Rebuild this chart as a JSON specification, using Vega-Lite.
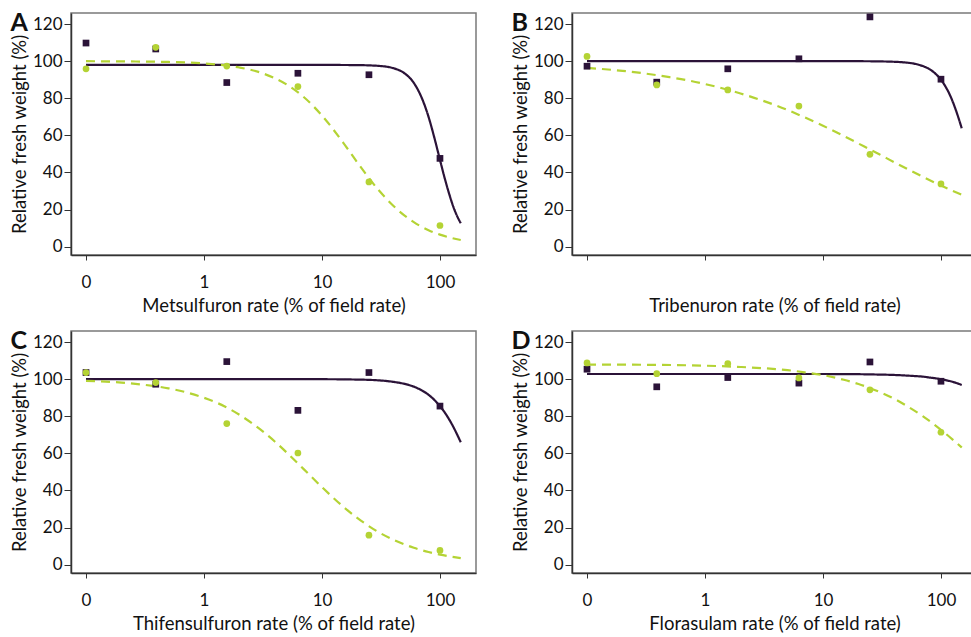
{
  "$schema": "https://vega.github.io/schema/vega-lite/v6.json",
  "background": "white",
  "padding": {"left": 9, "top": 10, "right": 0, "bottom": 0},
  "datasets": {
    "obs": [
      {"panel":"A","group":"R","rate":0.1,"weight":109.8},{"panel":"A","group":"R","rate":0.39,"weight":106.6},{"panel":"A","group":"R","rate":1.56,"weight":88.5},{"panel":"A","group":"R","rate":6.25,"weight":93.5},{"panel":"A","group":"R","rate":25,"weight":92.7},{"panel":"A","group":"R","rate":100,"weight":47.6},
      {"panel":"A","group":"S","rate":0.1,"weight":95.9},{"panel":"A","group":"S","rate":0.39,"weight":107.5},{"panel":"A","group":"S","rate":1.56,"weight":97.4},{"panel":"A","group":"S","rate":6.25,"weight":86.3},{"panel":"A","group":"S","rate":25,"weight":34.9},{"panel":"A","group":"S","rate":100,"weight":11.4},
      {"panel":"B","group":"R","rate":0.1,"weight":97.3},{"panel":"B","group":"R","rate":0.39,"weight":88.7},{"panel":"B","group":"R","rate":1.56,"weight":95.9},{"panel":"B","group":"R","rate":6.25,"weight":101.3},{"panel":"B","group":"R","rate":25,"weight":123.9},{"panel":"B","group":"R","rate":100,"weight":90.3},
      {"panel":"B","group":"S","rate":0.1,"weight":102.6},{"panel":"B","group":"S","rate":0.39,"weight":87.2},{"panel":"B","group":"S","rate":1.56,"weight":84.5},{"panel":"B","group":"S","rate":6.25,"weight":75.8},{"panel":"B","group":"S","rate":25,"weight":49.8},{"panel":"B","group":"S","rate":100,"weight":33.8},
      {"panel":"C","group":"R","rate":0.1,"weight":103.6},{"panel":"C","group":"R","rate":0.39,"weight":97.3},{"panel":"C","group":"R","rate":1.56,"weight":109.5},{"panel":"C","group":"R","rate":6.25,"weight":83.2},{"panel":"C","group":"R","rate":25,"weight":103.6},{"panel":"C","group":"R","rate":100,"weight":85.5},
      {"panel":"C","group":"S","rate":0.1,"weight":103.6},{"panel":"C","group":"S","rate":0.39,"weight":98.2},{"panel":"C","group":"S","rate":1.56,"weight":76.1},{"panel":"C","group":"S","rate":6.25,"weight":60.2},{"panel":"C","group":"S","rate":25,"weight":15.9},{"panel":"C","group":"S","rate":100,"weight":7.7},
      {"panel":"D","group":"R","rate":0.1,"weight":105.4},{"panel":"D","group":"R","rate":0.39,"weight":95.9},{"panel":"D","group":"R","rate":1.56,"weight":100.9},{"panel":"D","group":"R","rate":6.25,"weight":97.9},{"panel":"D","group":"R","rate":25,"weight":109.3},{"panel":"D","group":"R","rate":100,"weight":98.9},
      {"panel":"D","group":"S","rate":0.1,"weight":108.8},{"panel":"D","group":"S","rate":0.39,"weight":103.0},{"panel":"D","group":"S","rate":1.56,"weight":108.4},{"panel":"D","group":"S","rate":6.25,"weight":100.7},{"panel":"D","group":"S","rate":25,"weight":94.3},{"panel":"D","group":"S","rate":100,"weight":71.4}
    ],
    "fit": [
      {"panel":"A","group":"R","rate":0.1,"weight":98},{"panel":"A","group":"R","rate":1,"weight":98},{"panel":"A","group":"R","rate":10,"weight":98},{"panel":"A","group":"R","rate":20,"weight":97.9},{"panel":"A","group":"R","rate":30,"weight":97.5},{"panel":"A","group":"R","rate":40,"weight":96.3},{"panel":"A","group":"R","rate":50,"weight":93.5},{"panel":"A","group":"R","rate":60,"weight":88.3},{"panel":"A","group":"R","rate":70,"weight":80.3},{"panel":"A","group":"R","rate":80,"weight":70.0},{"panel":"A","group":"R","rate":90,"weight":58.3},{"panel":"A","group":"R","rate":100,"weight":46.8},{"panel":"A","group":"R","rate":110,"weight":36.6},{"panel":"A","group":"R","rate":120,"weight":28.2},{"panel":"A","group":"R","rate":130,"weight":21.4},{"panel":"A","group":"R","rate":140,"weight":16.4},{"panel":"A","group":"R","rate":150,"weight":12.6},
      {"panel":"A","group":"S","rate":0.1,"weight":100},{"panel":"A","group":"S","rate":0.2,"weight":99.9},{"panel":"A","group":"S","rate":0.5,"weight":99.6},{"panel":"A","group":"S","rate":1,"weight":98.8},{"panel":"A","group":"S","rate":2,"weight":96.6},{"panel":"A","group":"S","rate":3,"weight":93.9},{"panel":"A","group":"S","rate":5,"weight":87.5},{"panel":"A","group":"S","rate":7,"weight":80.7},{"panel":"A","group":"S","rate":10,"weight":70.7},{"panel":"A","group":"S","rate":15,"weight":56.4},{"panel":"A","group":"S","rate":20,"weight":45.3},{"panel":"A","group":"S","rate":30,"weight":30.7},{"panel":"A","group":"S","rate":40,"weight":22.2},{"panel":"A","group":"S","rate":60,"weight":13.2},{"panel":"A","group":"S","rate":80,"weight":8.9},{"panel":"A","group":"S","rate":100,"weight":6.5},{"panel":"A","group":"S","rate":125,"weight":4.7},{"panel":"A","group":"S","rate":150,"weight":3.6},
      {"panel":"B","group":"R","rate":0.1,"weight":100},{"panel":"B","group":"R","rate":1,"weight":100},{"panel":"B","group":"R","rate":10,"weight":100},{"panel":"B","group":"R","rate":20,"weight":100},{"panel":"B","group":"R","rate":30,"weight":99.9},{"panel":"B","group":"R","rate":40,"weight":99.7},{"panel":"B","group":"R","rate":50,"weight":99.3},{"panel":"B","group":"R","rate":60,"weight":98.6},{"panel":"B","group":"R","rate":70,"weight":97.4},{"panel":"B","group":"R","rate":80,"weight":95.7},{"panel":"B","group":"R","rate":90,"weight":93.2},{"panel":"B","group":"R","rate":100,"weight":90.0},{"panel":"B","group":"R","rate":110,"weight":86.0},{"panel":"B","group":"R","rate":120,"weight":81.3},{"panel":"B","group":"R","rate":130,"weight":75.8},{"panel":"B","group":"R","rate":140,"weight":69.9},{"panel":"B","group":"R","rate":150,"weight":63.8},
      {"panel":"B","group":"S","rate":0.1,"weight":96.4},{"panel":"B","group":"S","rate":0.2,"weight":94.8},{"panel":"B","group":"S","rate":0.3,"weight":93.5},{"panel":"B","group":"S","rate":0.5,"weight":91.4},{"panel":"B","group":"S","rate":0.7,"weight":89.8},{"panel":"B","group":"S","rate":1,"weight":87.7},{"panel":"B","group":"S","rate":1.5,"weight":84.9},{"panel":"B","group":"S","rate":2,"weight":82.6},{"panel":"B","group":"S","rate":3,"weight":79.0},{"panel":"B","group":"S","rate":5,"weight":73.7},{"panel":"B","group":"S","rate":7,"weight":69.7},{"panel":"B","group":"S","rate":10,"weight":65.2},{"panel":"B","group":"S","rate":15,"weight":59.7},{"panel":"B","group":"S","rate":20,"weight":55.6},{"panel":"B","group":"S","rate":30,"weight":49.8},{"panel":"B","group":"S","rate":40,"weight":45.6},{"panel":"B","group":"S","rate":50,"weight":42.4},{"panel":"B","group":"S","rate":70,"weight":37.7},{"panel":"B","group":"S","rate":100,"weight":33.0},{"panel":"B","group":"S","rate":125,"weight":30.2},{"panel":"B","group":"S","rate":150,"weight":28.0},
      {"panel":"C","group":"R","rate":0.1,"weight":100},{"panel":"C","group":"R","rate":1,"weight":100},{"panel":"C","group":"R","rate":10,"weight":100},{"panel":"C","group":"R","rate":20,"weight":99.8},{"panel":"C","group":"R","rate":30,"weight":99.4},{"panel":"C","group":"R","rate":40,"weight":98.6},{"panel":"C","group":"R","rate":50,"weight":97.5},{"panel":"C","group":"R","rate":60,"weight":96.0},{"panel":"C","group":"R","rate":70,"weight":94.0},{"panel":"C","group":"R","rate":80,"weight":91.6},{"panel":"C","group":"R","rate":90,"weight":88.7},{"panel":"C","group":"R","rate":100,"weight":85.5},{"panel":"C","group":"R","rate":115,"weight":80.1},{"panel":"C","group":"R","rate":130,"weight":74.2},{"panel":"C","group":"R","rate":150,"weight":66.0},
      {"panel":"C","group":"S","rate":0.1,"weight":99.1},{"panel":"C","group":"S","rate":0.2,"weight":98.2},{"panel":"C","group":"S","rate":0.3,"weight":97.1},{"panel":"C","group":"S","rate":0.5,"weight":95.1},{"panel":"C","group":"S","rate":0.7,"weight":93.0},{"panel":"C","group":"S","rate":1,"weight":90.0},{"panel":"C","group":"S","rate":1.5,"weight":85.3},{"panel":"C","group":"S","rate":2,"weight":80.8},{"panel":"C","group":"S","rate":3,"weight":72.9},{"panel":"C","group":"S","rate":4,"weight":66.3},{"panel":"C","group":"S","rate":5,"weight":60.6},{"panel":"C","group":"S","rate":7,"weight":51.5},{"panel":"C","group":"S","rate":10,"weight":41.8},{"panel":"C","group":"S","rate":15,"weight":31.5},{"panel":"C","group":"S","rate":20,"weight":25.1},{"panel":"C","group":"S","rate":30,"weight":17.6},{"panel":"C","group":"S","rate":40,"weight":13.5},{"panel":"C","group":"S","rate":60,"weight":9.1},{"panel":"C","group":"S","rate":80,"weight":6.8},{"panel":"C","group":"S","rate":100,"weight":5.4},{"panel":"C","group":"S","rate":125,"weight":4.3},{"panel":"C","group":"S","rate":150,"weight":3.5},
      {"panel":"D","group":"R","rate":0.1,"weight":102.8},{"panel":"D","group":"R","rate":1,"weight":102.8},{"panel":"D","group":"R","rate":10,"weight":102.8},{"panel":"D","group":"R","rate":20,"weight":102.7},{"panel":"D","group":"R","rate":30,"weight":102.5},{"panel":"D","group":"R","rate":40,"weight":102.3},{"panel":"D","group":"R","rate":50,"weight":102.0},{"panel":"D","group":"R","rate":60,"weight":101.7},{"panel":"D","group":"R","rate":70,"weight":101.4},{"panel":"D","group":"R","rate":80,"weight":100.9},{"panel":"D","group":"R","rate":90,"weight":100.5},{"panel":"D","group":"R","rate":100,"weight":100.0},{"panel":"D","group":"R","rate":115,"weight":99.2},{"panel":"D","group":"R","rate":130,"weight":98.3},{"panel":"D","group":"R","rate":150,"weight":96.9},
      {"panel":"D","group":"S","rate":0.1,"weight":107.9},{"panel":"D","group":"S","rate":0.3,"weight":107.8},{"panel":"D","group":"S","rate":1,"weight":107.3},{"panel":"D","group":"S","rate":2,"weight":106.6},{"panel":"D","group":"S","rate":3,"weight":106.0},{"panel":"D","group":"S","rate":5,"weight":104.9},{"panel":"D","group":"S","rate":7,"weight":103.7},{"panel":"D","group":"S","rate":10,"weight":102.2},{"panel":"D","group":"S","rate":15,"weight":99.7},{"panel":"D","group":"S","rate":20,"weight":97.4},{"panel":"D","group":"S","rate":30,"weight":93.2},{"panel":"D","group":"S","rate":40,"weight":89.5},{"panel":"D","group":"S","rate":50,"weight":86.0},{"panel":"D","group":"S","rate":70,"weight":80.1},{"panel":"D","group":"S","rate":100,"weight":72.7},{"panel":"D","group":"S","rate":125,"weight":67.6},{"panel":"D","group":"S","rate":150,"weight":63.2}
    ]
  },
  "config": {
    "font": "Lato",
    "view": {"stroke": "#7a7a7a", "strokeWidth": 1.5},
    "axis": {"grid": false, "domainColor": "#333333", "domainWidth": 1.5, "tickColor": "#333333", "tickWidth": 1, "labelFont": "Lato", "labelFontSize": 17, "labelColor": "#111111", "titleFont": "Lato", "titleFontSize": 18.5, "titleFontWeight": "normal", "titleColor": "#111111"},
    "axisY": {"tickSize": 7, "labelPadding": 2, "titlePadding": 3},
    "axisX": {"tickSize": 5, "labelPadding": 14, "titlePadding": 6},
    "title": {"anchor": "start", "frame": "bounds", "fontSize": 25, "fontWeight": "bold", "font": "Lato", "color": "#111111", "baseline": "alphabetic", "offset": -23}
  },
  "spacing": {"row": 12, "column": 33},
  "columns": 2,
  "concat": [
    {
      "title": "A",
      "width": 405, "height": 242,
      "layer": [
        {"data": {"name": "fit"}, "transform": [{"filter": "datum.panel === 'A'"}], "mark": {"type": "line", "strokeWidth": 2.2, "interpolate": "monotone"},
         "encoding": {
           "x": {"field": "rate", "type": "quantitative", "scale": {"type": "log", "domain": [0.0746, 202], "nice": false}, "axis": {"values": [0.1, 1, 10, 100], "labelExpr": "datum.value < 0.5 ? '0' : format(datum.value, 'd')", "title": "Metsulfuron rate (% of field rate)"}},
           "y": {"field": "weight", "type": "quantitative", "scale": {"domain": [-4.5, 126], "nice": false, "zero": false}, "axis": {"values": [0, 20, 40, 60, 80, 100, 120], "title": "Relative fresh weight (%)"}},
           "color": {"field": "group", "type": "nominal", "scale": {"domain": ["R", "S"], "range": ["#2b1338", "#b4d334"]}, "legend": null},
           "strokeDash": {"field": "group", "type": "nominal", "scale": {"domain": ["R", "S"], "range": [[1, 0], [9, 6]]}, "legend": null}
         }},
        {"data": {"name": "obs"}, "transform": [{"filter": "datum.panel === 'A'"}], "mark": {"type": "point", "filled": true, "opacity": 1, "size": 45},
         "encoding": {
           "x": {"field": "rate", "type": "quantitative"},
           "y": {"field": "weight", "type": "quantitative"},
           "color": {"field": "group", "type": "nominal", "legend": null},
           "shape": {"field": "group", "type": "nominal", "scale": {"domain": ["R", "S"], "range": ["square", "circle"]}, "legend": null}
         }}
      ]
    },
    {
      "title": "B",
      "width": 405, "height": 242,
      "layer": [
        {"data": {"name": "fit"}, "transform": [{"filter": "datum.panel === 'B'"}], "mark": {"type": "line", "strokeWidth": 2.2, "interpolate": "monotone"},
         "encoding": {
           "x": {"field": "rate", "type": "quantitative", "scale": {"type": "log", "domain": [0.0746, 202], "nice": false}, "axis": {"values": [0.1, 1, 10, 100], "labelOpacity": 0, "labelExpr": "datum.value < 0.5 ? '0' : format(datum.value, 'd')", "title": "Tribenuron rate (% of field rate)"}},
           "y": {"field": "weight", "type": "quantitative", "scale": {"domain": [-4.5, 126], "nice": false, "zero": false}, "axis": {"values": [0, 20, 40, 60, 80, 100, 120], "title": "Relative fresh weight (%)"}},
           "color": {"field": "group", "type": "nominal", "scale": {"domain": ["R", "S"], "range": ["#2b1338", "#b4d334"]}, "legend": null},
           "strokeDash": {"field": "group", "type": "nominal", "scale": {"domain": ["R", "S"], "range": [[1, 0], [9, 6]]}, "legend": null}
         }},
        {"data": {"name": "obs"}, "transform": [{"filter": "datum.panel === 'B'"}], "mark": {"type": "point", "filled": true, "opacity": 1, "size": 45},
         "encoding": {
           "x": {"field": "rate", "type": "quantitative"},
           "y": {"field": "weight", "type": "quantitative"},
           "color": {"field": "group", "type": "nominal", "legend": null},
           "shape": {"field": "group", "type": "nominal", "scale": {"domain": ["R", "S"], "range": ["square", "circle"]}, "legend": null}
         }}
      ]
    },
    {
      "title": "C",
      "width": 405, "height": 242,
      "layer": [
        {"data": {"name": "fit"}, "transform": [{"filter": "datum.panel === 'C'"}], "mark": {"type": "line", "strokeWidth": 2.2, "interpolate": "monotone"},
         "encoding": {
           "x": {"field": "rate", "type": "quantitative", "scale": {"type": "log", "domain": [0.0746, 202], "nice": false}, "axis": {"values": [0.1, 1, 10, 100], "labelExpr": "datum.value < 0.5 ? '0' : format(datum.value, 'd')", "title": "Thifensulfuron rate (% of field rate)"}},
           "y": {"field": "weight", "type": "quantitative", "scale": {"domain": [-4.5, 126], "nice": false, "zero": false}, "axis": {"values": [0, 20, 40, 60, 80, 100, 120], "title": "Relative fresh weight (%)"}},
           "color": {"field": "group", "type": "nominal", "scale": {"domain": ["R", "S"], "range": ["#2b1338", "#b4d334"]}, "legend": null},
           "strokeDash": {"field": "group", "type": "nominal", "scale": {"domain": ["R", "S"], "range": [[1, 0], [9, 6]]}, "legend": null}
         }},
        {"data": {"name": "obs"}, "transform": [{"filter": "datum.panel === 'C'"}], "mark": {"type": "point", "filled": true, "opacity": 1, "size": 45},
         "encoding": {
           "x": {"field": "rate", "type": "quantitative"},
           "y": {"field": "weight", "type": "quantitative"},
           "color": {"field": "group", "type": "nominal", "legend": null},
           "shape": {"field": "group", "type": "nominal", "scale": {"domain": ["R", "S"], "range": ["square", "circle"]}, "legend": null}
         }}
      ]
    },
    {
      "title": "D",
      "width": 405, "height": 242,
      "layer": [
        {"data": {"name": "fit"}, "transform": [{"filter": "datum.panel === 'D'"}], "mark": {"type": "line", "strokeWidth": 2.2, "interpolate": "monotone"},
         "encoding": {
           "x": {"field": "rate", "type": "quantitative", "scale": {"type": "log", "domain": [0.0746, 202], "nice": false}, "axis": {"values": [0.1, 1, 10, 100], "labelExpr": "datum.value < 0.5 ? '0' : format(datum.value, 'd')", "title": "Florasulam rate (% of field rate)"}},
           "y": {"field": "weight", "type": "quantitative", "scale": {"domain": [-4.5, 126], "nice": false, "zero": false}, "axis": {"values": [0, 20, 40, 60, 80, 100, 120], "title": "Relative fresh weight (%)"}},
           "color": {"field": "group", "type": "nominal", "scale": {"domain": ["R", "S"], "range": ["#2b1338", "#b4d334"]}, "legend": null},
           "strokeDash": {"field": "group", "type": "nominal", "scale": {"domain": ["R", "S"], "range": [[1, 0], [9, 6]]}, "legend": null}
         }},
        {"data": {"name": "obs"}, "transform": [{"filter": "datum.panel === 'D'"}], "mark": {"type": "point", "filled": true, "opacity": 1, "size": 45},
         "encoding": {
           "x": {"field": "rate", "type": "quantitative"},
           "y": {"field": "weight", "type": "quantitative"},
           "color": {"field": "group", "type": "nominal", "legend": null},
           "shape": {"field": "group", "type": "nominal", "scale": {"domain": ["R", "S"], "range": ["square", "circle"]}, "legend": null}
         }}
      ]
    }
  ]
}
